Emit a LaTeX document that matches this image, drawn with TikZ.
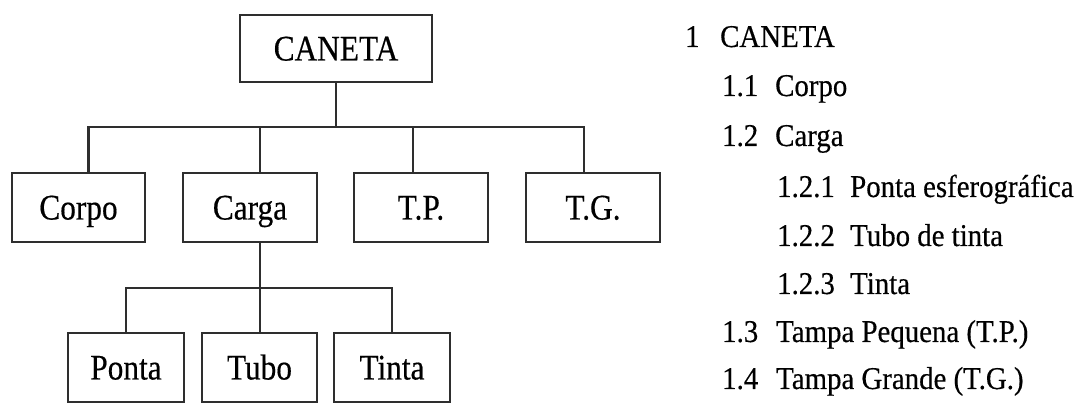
\documentclass[tikz,border=0pt]{standalone}
\usepackage{fontspec}
\setmainfont{Liberation Serif}
\newfontfamily\boxfont{Liberation Serif}[FakeStretch=0.87,FakeBold=0.4]
\newfontfamily\listfont{Liberation Serif}[FakeStretch=0.91,FakeBold=0.4]
\begin{document}
\begin{tikzpicture}[x=1pt,y=-1pt,
  wbs/.style={draw=black!82, line width=2.3pt, inner sep=0pt, minimum height=69pt,
    font=\boxfont\fontsize{36}{36}\selectfont, text height=24pt, text depth=0pt},
  link/.style={draw=black!82, line width=2.3pt},
  entry/.style={anchor=base west, inner sep=0pt,
    font=\listfont\fontsize{31.7}{38}\selectfont}]
\useasboundingbox (0,0) rectangle (1080,403);

% work breakdown tree
\node[wbs, minimum width=192pt, minimum height=67pt] (caneta) at (336,48.5) {CANETA};
\node[wbs, minimum width=133pt] (corpo) at (78.5,207.5) {Corpo};
\node[wbs, minimum width=134pt] (carga) at (250,207.5) {Carga};
\node[wbs, minimum width=134pt] (tp) at (421,207.5) {T.P.};
\node[wbs, minimum width=134pt] (tg) at (593,207.5) {T.G.};
\node[wbs, minimum width=116pt] (ponta) at (126,367.5) {Ponta};
\node[wbs, minimum width=115pt] (tubo) at (259.5,367.5) {Tubo};
\node[wbs, minimum width=116pt] (tinta) at (392,367.5) {Tinta};

% connector levels and drop points
\coordinate (bar1) at (0,127);
\coordinate (bar2) at (0,288);
\coordinate (corpoT) at ([xshift=10pt]corpo.north);
\coordinate (cargaT) at ([xshift=10pt]carga.north);
\coordinate (cargaB) at ([xshift=10pt]carga.south);
\coordinate (tpT) at ([xshift=-8pt]tp.north);
\coordinate (tgT) at ([xshift=-9pt]tg.north);

\draw[link] (caneta.south) -- (caneta.south |- bar1);
\draw[link] (corpoT) |- (caneta.south |- bar1) -| (tgT);
\draw[link] (cargaT) -- (cargaT |- bar1);
\draw[link] (tpT) -- (tpT |- bar1);

\draw[link] (cargaB) -- (cargaB |- tubo.north);
\draw[link] (ponta.north) |- (cargaB |- bar2) -| (tinta.north);

% outline list
\node[entry] (n1) at (685,47) {1};
\node[entry] (t1) at (720,47) {CANETA};
\node[entry] (n11) at (722,96) {1.1};
\node[entry] (t11) at (775,96) {Corpo};
\node[entry] (n12) at (722,146) {1.2};
\node[entry] (t12) at (775,146) {Carga};
\node[entry] (n121) at (777,197) {1.2.1};
\node[entry] (t121) at (850,197) {Ponta esferográfica};
\node[entry] (n122) at (777,246) {1.2.2};
\node[entry] (t122) at (850,246) {Tubo de tinta};
\node[entry] (n123) at (777,294) {1.2.3};
\node[entry] (t123) at (850,294) {Tinta};
\node[entry] (n13) at (722,342) {1.3};
\node[entry] (t13) at (776,342) {Tampa Pequena (T.P.)};
\node[entry] (n14) at (722,389) {1.4};
\node[entry] (t14) at (776,389) {Tampa Grande (T.G.)};
\end{tikzpicture}
\end{document}
